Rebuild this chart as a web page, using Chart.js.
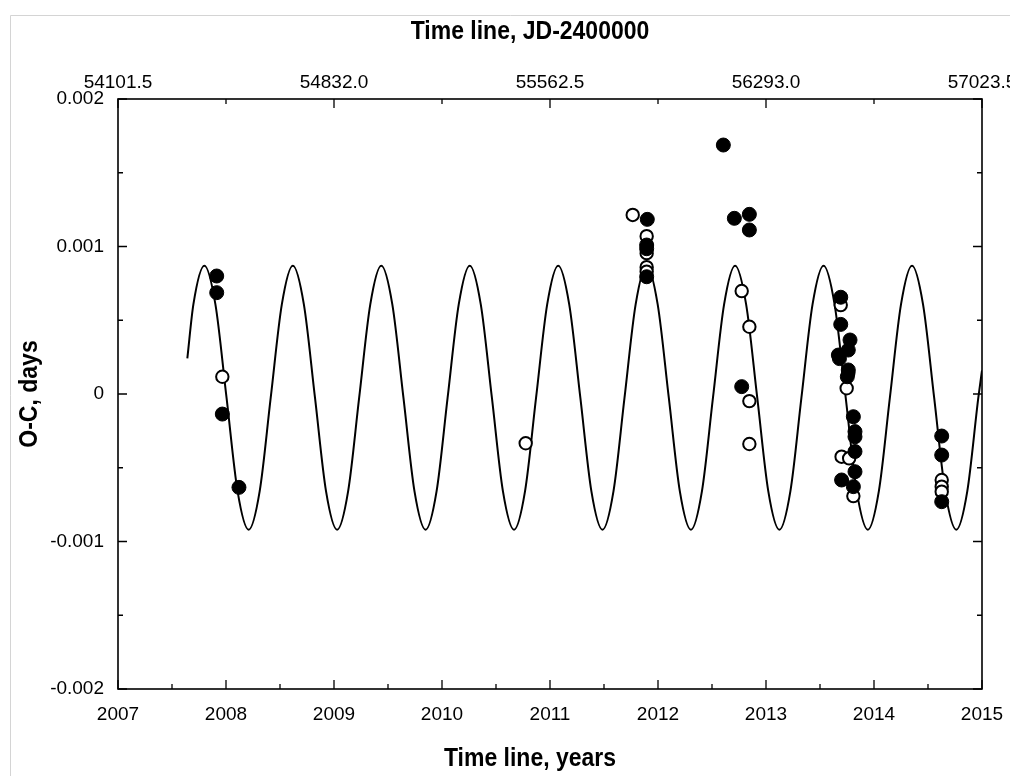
<!DOCTYPE html>
<html><head><meta charset="utf-8">
<script src="https://cdn.jsdelivr.net/npm/chart.js@4"></script>
<style>html,body{margin:0;padding:0;background:#fff}</style>
</head><body>
<canvas id="c" width="1010" height="776"></canvas>
<script>
// ---- data ----
const yearTicks = [2007, 2008, 2009, 2010, 2011, 2012, 2013, 2014, 2015];
const yearMinorTicks = [2007.5, 2008.5, 2009.5, 2010.5, 2011.5, 2012.5, 2013.5, 2014.5];
const jdTicks = [54101.5, 54832.0, 55562.5, 56293.0, 57023.5];
const jdMinorTicks = [54466.75, 55197.25, 55927.75, 56658.25];
const ocTicks = [-0.002, -0.001, 0, 0.001, 0.002];
const ocMinorTicks = [-0.0015, -0.0005, 0.0005, 0.0015];

const filledYears = [2007.914, 2007.914, 2007.966, 2008.120, 2011.901, 2011.895, 2011.895, 2011.895,
  2012.605, 2012.707, 2012.846, 2012.846, 2012.775,
  2013.692, 2013.692, 2013.778, 2013.762, 2013.670, 2013.680, 2013.762, 2013.753, 2013.809,
  2013.824, 2013.824, 2013.824, 2013.824, 2013.700, 2013.809,
  2014.627, 2014.627, 2014.627];
const filledOC = [0.000800, 0.000687, -0.000136, -0.000633, 0.001184, 0.001010, 0.000985, 0.000795,
  0.001688, 0.001191, 0.001218, 0.001112, 0.000050,
  0.000656, 0.000472, 0.000366, 0.000298, 0.000264, 0.000240, 0.000163, 0.000117, -0.000154,
  -0.000255, -0.000290, -0.000390, -0.000527, -0.000583, -0.000628,
  -0.000285, -0.000414, -0.000730];

const openYears = [2007.966, 2010.775, 2011.766, 2011.895, 2011.895, 2011.895, 2011.895,
  2012.775, 2012.846, 2012.846, 2012.846,
  2013.692, 2013.762, 2013.747, 2013.700, 2013.770, 2013.809,
  2014.627, 2014.627, 2014.627];
const openOC = [0.000117, -0.000334, 0.001214, 0.001070, 0.000955, 0.000860, 0.000830,
  0.000698, 0.000456, -0.000048, -0.000339,
  0.000603, 0.000140, 0.000039, -0.000425, -0.000436, -0.000692,
  -0.000583, -0.000628, -0.000662];

const fitYears = [2007.642, 2007.698,
  2007.800, 2007.902, 2008.005, 2008.107, 2008.210, 2008.312, 2008.414, 2008.517,
  2008.619, 2008.721, 2008.824, 2008.926, 2009.029, 2009.131, 2009.233, 2009.336,
  2009.438, 2009.540, 2009.643, 2009.745, 2009.848, 2009.950, 2010.052, 2010.155,
  2010.257, 2010.359, 2010.462, 2010.564, 2010.667, 2010.769, 2010.871, 2010.974,
  2011.076, 2011.178, 2011.281, 2011.383, 2011.486, 2011.588, 2011.690, 2011.793,
  2011.895, 2011.997, 2012.100, 2012.202, 2012.305, 2012.407, 2012.509, 2012.612,
  2012.714, 2012.816, 2012.919, 2013.021, 2013.124, 2013.226, 2013.328, 2013.431,
  2013.533, 2013.635, 2013.738, 2013.840, 2013.943, 2014.045, 2014.147, 2014.250,
  2014.352, 2014.454, 2014.557, 2014.659, 2014.762, 2014.864, 2014.966,
  2015.000];
const fitOC = [0.000242, 0.000608,
  0.00087, 0.000608, -0.000025, -0.000658, -0.00092, -0.000658, -0.000025, 0.000608,
  0.00087, 0.000608, -0.000025, -0.000658, -0.00092, -0.000658, -0.000025, 0.000608,
  0.00087, 0.000608, -0.000025, -0.000658, -0.00092, -0.000658, -0.000025, 0.000608,
  0.00087, 0.000608, -0.000025, -0.000658, -0.00092, -0.000658, -0.000025, 0.000608,
  0.00087, 0.000608, -0.000025, -0.000658, -0.00092, -0.000658, -0.000025, 0.000608,
  0.00087, 0.000608, -0.000025, -0.000658, -0.00092, -0.000658, -0.000025, 0.000608,
  0.00087, 0.000608, -0.000025, -0.000658, -0.00092, -0.000658, -0.000025, 0.000608,
  0.00087, 0.000608, -0.000025, -0.000658, -0.00092, -0.000658, -0.000025, 0.000608,
  0.00087, 0.000608, -0.000025, -0.000658, -0.00092, -0.000658, -0.000025,
  0.00016];

const titleTop = 'Time line, JD-2400000';
const titleBottom = 'Time line, years';
const titleLeft = 'O-C, days';

// ---- chart ----
const FONT = "'Liberation Sans', Arial, Helvetica, sans-serif";
const pts = (xs, ys) => xs.map((x, i) => ({x: x, y: ys[i]}));

const decor = {
  id: 'decor',
  beforeDraw(chart) {
    const c = chart.ctx;
    c.save();
    c.fillStyle = '#fff';
    c.fillRect(0, 0, chart.width, chart.height);
    c.strokeStyle = '#d4d4d4';
    c.lineWidth = 1;
    c.beginPath();
    c.moveTo(10.5, chart.height); c.lineTo(10.5, 15.5); c.lineTo(chart.width, 15.5);
    c.stroke();
    c.restore();
  },
  afterDraw(chart) {
    const c = chart.ctx, a = chart.chartArea;
    const sx = chart.scales.x, sx2 = chart.scales.x2, sy = chart.scales.y;
    c.save();
    c.strokeStyle = '#000';
    c.lineWidth = 1.6;
    c.strokeRect(a.left, a.top, a.right - a.left, a.bottom - a.top);
    c.lineWidth = 1.3;
    c.beginPath();
    const vt = (px, y0, len) => { c.moveTo(px, y0); c.lineTo(px, y0 + len); };
    const ht = (py, x0, len) => { c.moveTo(x0, py); c.lineTo(x0 + len, py); };
    yearTicks.forEach(v => vt(sx.getPixelForValue(v), a.bottom, -9));
    yearMinorTicks.forEach(v => vt(sx.getPixelForValue(v), a.bottom, -5));
    jdTicks.forEach(v => vt(sx2.getPixelForValue(v), a.top, 9));
    jdMinorTicks.forEach(v => vt(sx2.getPixelForValue(v), a.top, 5));
    ocTicks.forEach(v => { const p = sy.getPixelForValue(v); ht(p, a.left, 9); ht(p, a.right, -9); });
    ocMinorTicks.forEach(v => { const p = sy.getPixelForValue(v); ht(p, a.left, 5); ht(p, a.right, -5); });
    c.stroke();
    // axis titles (slightly condensed, like the reference)
    c.fillStyle = '#000';
    c.font = 'bold 25px ' + FONT;
    c.textAlign = 'center';
    c.textBaseline = 'middle';
    const cy = (a.top + a.bottom) / 2;
    const tx = 530, squeeze = 0.92;
    c.save(); c.translate(tx, 32); c.scale(squeeze, 1); c.fillText(titleTop, 0, 0); c.restore();
    c.save(); c.translate(tx, 759); c.scale(squeeze, 1); c.fillText(titleBottom, 0, 0); c.restore();
    c.save(); c.translate(30, cy); c.rotate(-Math.PI / 2); c.scale(squeeze, 1); c.fillText(titleLeft, 0, 0); c.restore();
    c.restore();
  }
};

const tickFont = {family: FONT, size: 19};

new Chart(document.getElementById('c'), {
  type: 'scatter',
  data: {
    datasets: [
      {label: 'filled', data: pts(filledYears, filledOC), order: 0,
       pointRadius: 7, pointBackgroundColor: '#000', pointBorderColor: '#000', pointBorderWidth: 1},
      {label: 'open', data: pts(openYears, openOC), order: 1,
       pointRadius: 6.2, pointBackgroundColor: '#fff', pointBorderColor: '#000', pointBorderWidth: 2},
      {label: 'fit', data: pts(fitYears, fitOC), order: 2, showLine: true,
       borderColor: '#000', borderWidth: 2, pointRadius: 0, fill: false,
       cubicInterpolationMode: 'monotone'}
    ]
  },
  options: {
    responsive: false,
    animation: false,
    events: [],
    layout: {padding: {left: 0, right: 28, top: 0, bottom: 0}},
    plugins: {legend: {display: false}, tooltip: {enabled: false}, title: {display: false}},
    scales: {
      x: {
        type: 'linear', position: 'bottom', min: 2007, max: 2015,
        afterBuildTicks: s => { s.ticks = yearTicks.map(v => ({value: v})); },
        ticks: {font: tickFont, color: '#000', padding: 14, maxRotation: 0, autoSkip: false,
                callback: v => String(v)},
        grid: {display: false, drawTicks: false},
        border: {display: false},
        afterFit: s => { s.height = 87; s.paddingLeft = 0; s.paddingRight = 0; }
      },
      x2: {
        type: 'linear', position: 'top', min: 54101.5, max: 57023.5,
        afterBuildTicks: s => { s.ticks = jdTicks.map(v => ({value: v})); },
        ticks: {font: tickFont, color: '#000', padding: 5, maxRotation: 0, autoSkip: false,
                callback: v => v.toFixed(1)},
        grid: {display: false, drawTicks: false},
        border: {display: false},
        afterFit: s => { s.height = 99; s.paddingLeft = 0; s.paddingRight = 0; }
      },
      y: {
        type: 'linear', position: 'left', min: -0.002, max: 0.002,
        afterBuildTicks: s => { s.ticks = ocTicks.map(v => ({value: v})); },
        ticks: {font: tickFont, color: '#000', padding: 14, autoSkip: false,
                callback: v => (Math.abs(v) < 1e-12 ? '0' : v.toFixed(3))},
        grid: {display: false, drawTicks: false},
        border: {display: false},
        afterFit: s => { s.width = 118; s.paddingTop = 0; s.paddingBottom = 0; }
      }
    }
  },
  plugins: [decor]
});
</script>
</body></html>
